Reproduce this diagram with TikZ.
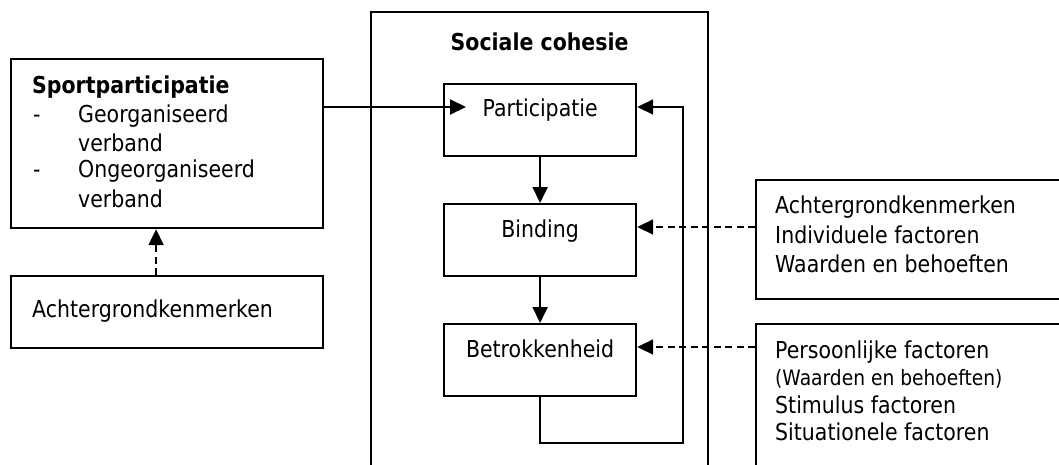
\documentclass[tikz,border=0pt]{standalone}
\usepackage{fontspec}
\setmainfont{DejaVu Sans}[FakeStretch=0.88]
\usetikzlibrary{arrows.meta}
\begin{document}
\begin{tikzpicture}[x=1pt,y=-1pt,
  box/.style={draw, line width=2.2pt, rectangle, inner sep=0pt, anchor=north west},
  txt/.style={inner sep=0pt, anchor=base west, font=\fontsize{23.3}{28}\selectfont},
  small/.style={inner sep=0pt, anchor=base west, font=\fontsize{21.2}{25}\selectfont},
  arr/.style={line width=2pt, -{Triangle[length=16pt,width=15pt]}},
  darr/.style={arr, dash pattern=on 7pt off 4.5pt}]
\useasboundingbox (0,0) rectangle (1059,465);
\fill[white] (0,0) rectangle (1059,465);
\clip (0,0) rectangle (1059,465);

% left boxes
\node[box, minimum width=312pt, minimum height=169pt] (sport) at (10,58) {};
\node[txt, font=\fontsize{23.3}{28}\selectfont\bfseries] (t1) at (32,94) {Sportparticipatie};
\node[txt] (t2) at (33,123) {-};
\node[txt] (t3) at (78,123) {Georganiseerd};
\node[txt] (t4) at (78,152) {verband};
\node[txt] (t5) at (33,178) {-};
\node[txt] (t6) at (78,178) {Ongeorganiseerd};
\node[txt] (t7) at (78,207) {verband};

\node[box, minimum width=312pt, minimum height=72pt] (ach) at (10,275) {};
\node[txt] (t8) at (32,317) {Achtergrondkenmerken};

% middle
\node[box, minimum width=337pt, minimum height=500pt] (coh) at (370,11) {};
\node[txt, anchor=base, font=\fontsize{23.3}{28}\selectfont\bfseries] (ct) at ([yshift=-40pt]coh.north) {Sociale cohesie};

\node[box, minimum width=192pt, minimum height=72pt] (part) at (443,83) {};
\node[box, minimum width=192pt, minimum height=72pt] (bind) at (443,203) {};
\node[box, minimum width=192pt, minimum height=72pt] (betr) at (443,323) {};
\node[txt, anchor=base] (pt) at ([yshift=-34pt]part.north) {Participatie};
\node[txt, anchor=base] (bt) at ([yshift=-34pt]bind.north) {Binding};
\node[txt, anchor=base] (et) at ([yshift=-34pt]betr.north) {Betrokkenheid};

% right boxes
\node[box, minimum width=400pt, minimum height=119pt] (rb1) at (755,179) {};
\node[txt] (r1) at (775,213) {Achtergrondkenmerken};
\node[txt] (r2) at (775,243) {Individuele factoren};
\node[txt] (r3) at (775,272) {Waarden en behoeften};

\node[box, minimum width=400pt, minimum height=300pt] (rb2) at (755,323) {};
\node[txt] (r4) at (775,358) {Persoonlijke factoren};
\node[small] (r5) at (775,385) {(Waarden en behoeften)};
\node[txt] (r6) at (775,413) {Stimulus factoren};
\node[txt] (r7) at (775,440) {Situationele factoren};

% connectors
\coordinate (pin) at (466,107);
\coordinate (lp) at (683,443);
\coordinate (bin) at ([yshift=-24pt]bind.north east);
\coordinate (ein) at ([yshift=-24pt]betr.north east);

\draw[arr] (sport.east |- pin) -- (pin);
\draw[arr] (part.south) -- (bind.north);
\draw[arr] (bind.south) -- (betr.north);
\draw[arr] (betr.south) |- (lp) |- (part.east |- pin);
\draw[darr] ([xshift=-11pt]ach.north) -- ([xshift=-11pt]sport.south);
\draw[darr] (rb1.west |- bin) -- (bin);
\draw[darr] (rb2.west |- ein) -- (ein);
\end{tikzpicture}
\end{document}
